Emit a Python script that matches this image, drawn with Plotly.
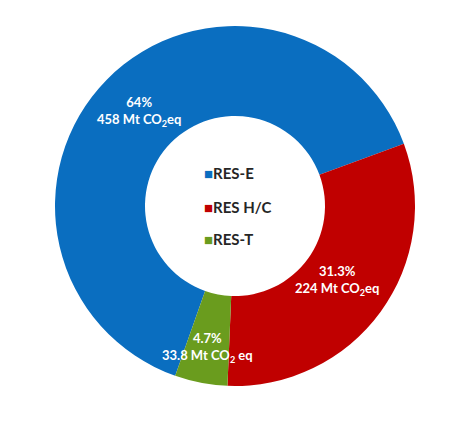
import math
import plotly.graph_objects as go

labels = ["RES-E", "RES H/C", "RES-T"]
values = [458, 224, 33.8]
pct_text = ["64%", "31.3%", "4.7%"]
amount_text = ["458 Mt CO<sub>2</sub>eq", "224 Mt CO<sub>2</sub>eq", "33.8 Mt CO<sub>2</sub> eq"]
colors = ["#0A6EC0", "#C00000", "#6A9C1E"]

# page body has an 8px margin, so the figure is sized to fit the window
W, H = 466, 413
ml, mr, mt, mb = 47, 59, 18, 35
ROT = 199.4
HOLE = 0.5
label_r = [0.75, 0.70, 0.80]   # radial position of slice labels (fraction of outer radius)

fig = go.Figure(go.Pie(
    labels=labels,
    values=values,
    hole=HOLE,
    sort=False,
    direction="clockwise",
    rotation=ROT,
    marker=dict(colors=colors, line=dict(width=0)),
    textinfo="none",
    showlegend=False,
    hoverinfo="label+value+percent",
))

# slice labels placed at the middle angle of each slice
pw, ph = W - ml - mr, H - mt - mb
R = min(pw, ph) / 2
total = sum(values)
cum = 0
for v, p, a, rf in zip(values, pct_text, amount_text, label_r):
    mid = ROT + 360 * (cum + v / 2) / total
    cum += v
    th = math.radians(mid)
    dx = rf * R * math.sin(th)
    dy = rf * R * math.cos(th)
    fig.add_annotation(
        x=0.5 + dx / pw, y=0.5 + dy / ph, xref="paper", yref="paper",
        xanchor="center", yanchor="middle", showarrow=False,
        text=f"{p}<br>{a}",
        font=dict(family="Lato", size=13, color="white", weight="bold"),
    )

# legend in the hole
leg_x_px = 194
leg_y_px = [165, 199, 231]
for lab, col, ypx in zip(labels, colors, leg_y_px):
    fig.add_annotation(
        x=(leg_x_px - ml) / pw, y=1 - (ypx - mt) / ph,
        xref="paper", yref="paper", xanchor="left", yanchor="middle",
        showarrow=False,
        text=f"<span style='color:{col};font-size:15px'>■</span>{lab}",
        font=dict(family="Lato", size=15, color="#262626", weight="bold"),
    )

fig.update_layout(
    width=W, height=H,
    margin=dict(l=ml, r=mr, t=mt, b=mb),
    paper_bgcolor="white",
    plot_bgcolor="white",
)

fig.write_html("out.html")
